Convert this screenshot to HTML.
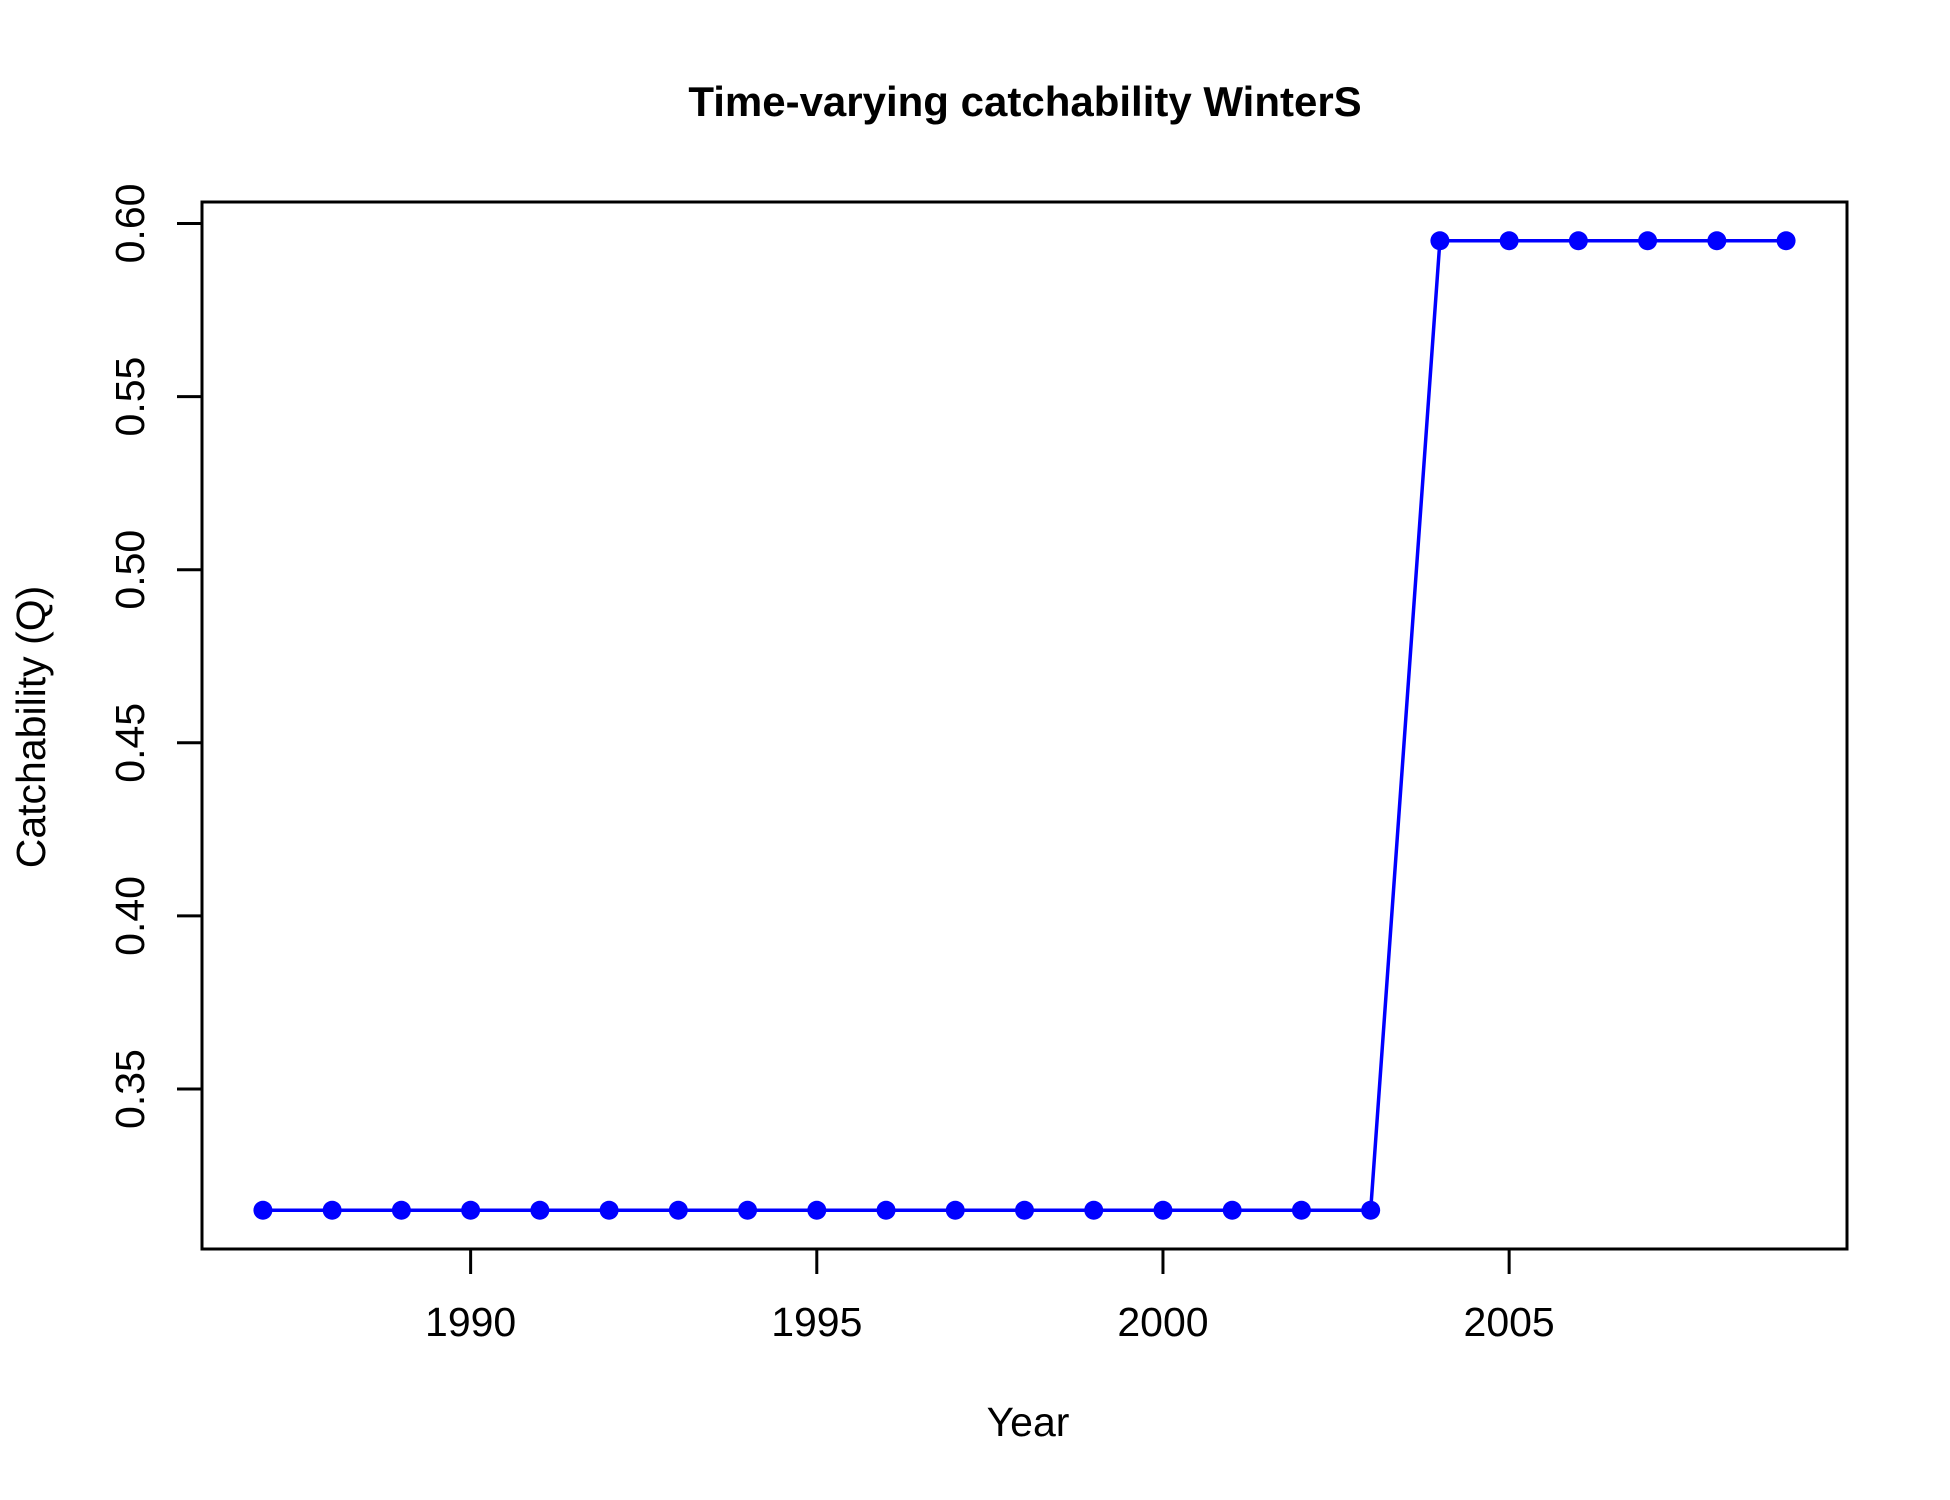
<!DOCTYPE html>
<html><head><meta charset="utf-8"><style>
html,body{margin:0;padding:0;background:#fff;}
svg{display:block;font-family:"Liberation Sans",Arial,sans-serif;}
</style></head><body>
<svg id="chart" width="1950" height="1500" viewBox="0 0 1950 1500">
<text x="1025" y="116" font-size="42" font-weight="bold" text-anchor="middle">Time-varying catchability WinterS</text>
<rect x="202" y="202" width="1645" height="1047" fill="none" stroke="#000" stroke-width="3"/>
<g id="xaxis"></g>
<g id="yaxis"></g>
<text x="1028" y="1436" font-size="41" text-anchor="middle">Year</text>
<text transform="translate(45,727) rotate(-90)" font-size="41" text-anchor="middle">Catchability (Q)</text>
<g id="series"></g>
</svg>
<script>
const years = [1987,1988,1989,1990,1991,1992,1993,1994,1995,1996,1997,1998,1999,2000,2001,2002,2003,2004,2005,2006,2007,2008,2009];
const qValues = [0.315,0.315,0.315,0.315,0.315,0.315,0.315,0.315,0.315,0.315,0.315,0.315,0.315,0.315,0.315,0.315,0.315,0.595,0.595,0.595,0.595,0.595,0.595];
const xTicks = [1990,1995,2000,2005];
const yTicks = [0.35,0.40,0.45,0.50,0.55,0.60];
const yTickLabels = ["0.35","0.40","0.45","0.50","0.55","0.60"];

const NS = "http://www.w3.org/2000/svg";
const L=202,R=1847,T=202,B=1249;
const xmin=Math.min(...years),xmax=Math.max(...years);
const ymin=Math.min(...qValues),ymax=Math.max(...qValues);
const xr=xmax-xmin, yr=ymax-ymin;
const x0=xmin-0.04*xr, x1=xmax+0.04*xr, y0=ymin-0.04*yr, y1=ymax+0.04*yr;
const sx=v=>L+(v-x0)/(x1-x0)*(R-L);
const sy=v=>B-(v-y0)/(y1-y0)*(B-T);
function mk(tag,attrs,parent){const e=document.createElementNS(NS,tag);for(const k in attrs)e.setAttribute(k,attrs[k]);parent.appendChild(e);return e;}

const xa=document.getElementById('xaxis');
xTicks.forEach(t=>{
  const l=mk('line',{x1:sx(t),x2:sx(t),y1:B,y2:B+25,stroke:'#000','stroke-width':3},xa);
  
  
  const tx=mk('text',{x:sx(t),y:1336,'font-size':41,'text-anchor':'middle'},xa);
  tx.textContent=t;
  
  
});
const ya=document.getElementById('yaxis');
yTicks.forEach((t,i)=>{
  const l=mk('line',{x1:L-25,x2:L,y1:sy(t),y2:sy(t),stroke:'#000','stroke-width':3},ya);
  
  
  const tx=mk('text',{transform:`translate(144,${sy(t)}) rotate(-90)`,'font-size':41,'text-anchor':'middle'},ya);
  tx.textContent=yTickLabels[i];
  
  
});
const s=document.getElementById('series');
const pl=mk('polyline',{points:years.map((y,i)=>sx(y)+','+sy(qValues[i])).join(' '),fill:'none',stroke:'#0000ff','stroke-width':3.5},s);


years.forEach((y,i)=>{
  const c=mk('circle',{cx:sx(y),cy:sy(qValues[i]),r:9.5,fill:'#0000ff'},s);
  
  
});
</script>
</body></html>
